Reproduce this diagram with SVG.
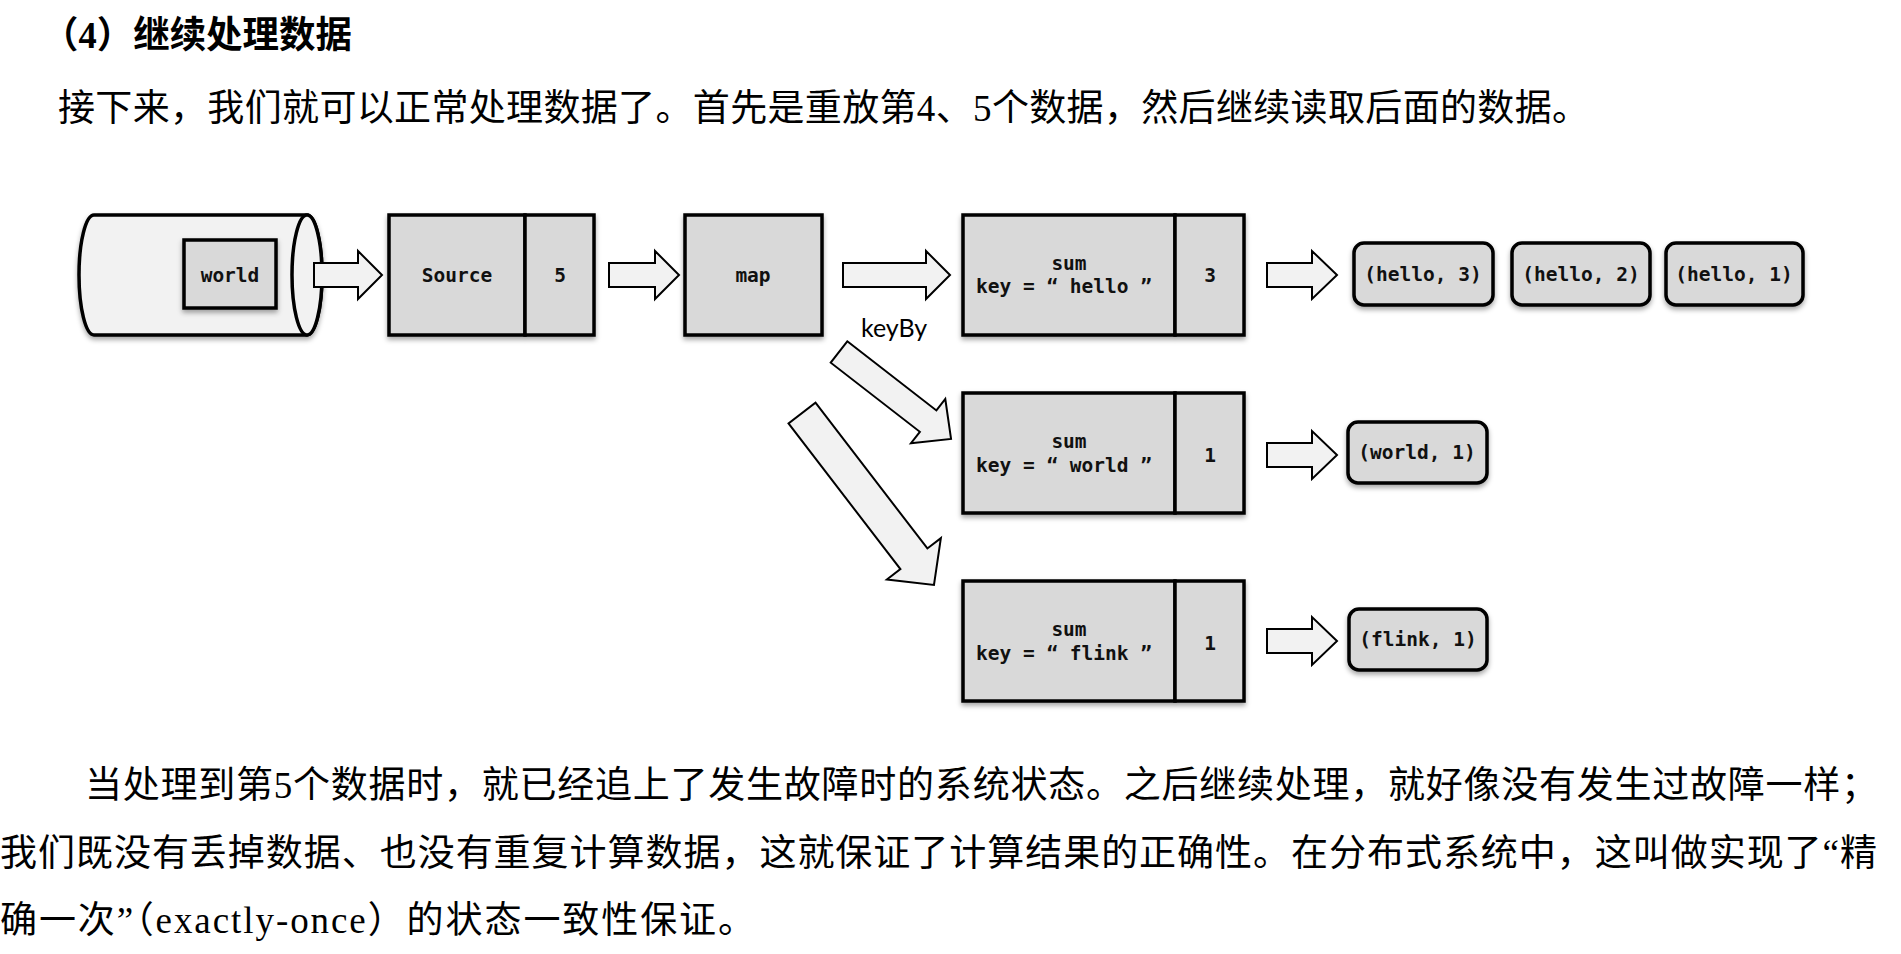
<svg xmlns="http://www.w3.org/2000/svg" width="1901" height="954" viewBox="0 0 1901 954">
<defs>
<filter id="sh" x="-10%" y="-10%" width="120%" height="130%">
<feDropShadow dx="0" dy="3" stdDeviation="2.5" flood-color="#000" flood-opacity="0.35"/>
</filter>
<style>
.box{fill:#d9d9d9;stroke:#000;stroke-width:3.5}
.cyl{fill:#f2f2f2;stroke:#000;stroke-width:3.5}
.arr{fill:#f2f2f2;stroke:#000;stroke-width:2;stroke-linejoin:miter}
.mono{font-family:"DejaVu Sans Mono","Liberation Mono",monospace;font-weight:bold;font-size:19.5px;fill:#111;text-anchor:middle}
.pill{font-family:"DejaVu Sans Mono","Liberation Mono",monospace;font-weight:bold;font-size:19.5px;fill:#111;text-anchor:middle}
.cn{font-family:"Liberation Serif","Noto Sans CJK SC",serif;font-size:37px;fill:#000}
.lbl{font-family:Lato,"Open Sans",sans-serif;font-size:25px;fill:#000}
</style>
</defs>

<g id="text-title">
<text class="cn" x="42" y="48" textLength="310" lengthAdjust="spacingAndGlyphs" font-weight="bold">（4）继续处理数据</text>
</g>
<g id="text-intro">
<text class="cn" x="58" y="121" textLength="1531" lengthAdjust="spacing">接下来，我们就可以正常处理数据了。首先是重放第4、5个数据，然后继续读取后面的数据。</text>
</g>

<g id="connectors">
<polygon class="arr" points="609,263 655,263 655,251 679,275 655,299 655,287 609,287"/>
<polygon class="arr" points="843,263 926,263 926,251 950,275 926,299 926,287 843,287"/>
<polygon class="arr" points="1267,263 1312,263 1312,251 1337,275 1312,299 1312,287 1267,287"/>
<polygon class="arr" points="1267,443 1312,443 1312,431 1337,455 1312,479 1312,467 1267,467"/>
<polygon class="arr" points="1267,629 1312,629 1312,617 1337,641 1312,665 1312,653 1267,653"/>
<polygon class="arr" transform="translate(839,352) rotate(37.8)" points="0,-13.5 112.8,-13.5 112.8,-28 141.8,0 112.8,28 112.8,13.5 0,13.5"/>
<polygon class="arr" transform="translate(802,413) rotate(52.5)" points="0,-17 183.8,-17 183.8,-34 216.8,0 183.8,34 183.8,17 0,17"/>
<text class="lbl" x="861" y="337">keyBy</text>
</g>

<g id="cylinder" filter="url(#sh)">
<path class="cyl" d="M94,215 H307 A15,60 0 0 1 307,335 H94 A15,60 0 0 1 94,215 Z"/>
<ellipse class="cyl" cx="307" cy="275" rx="15" ry="60"/>
</g>
<g id="world-record">
<rect class="box" x="184" y="240" width="92" height="68" filter="url(#sh)"/>
<text class="mono" x="230" y="282">world</text>
</g>
<g id="source-arrow">
<polygon class="arr" points="314,263 358,263 358,251 382,275 358,299 358,287 314,287"/>
</g>

<g id="source">
<g filter="url(#sh)">
<rect class="box" x="389" y="215" width="136" height="120"/>
<rect class="box" x="525" y="215" width="69" height="120"/>
</g>
<text class="mono" x="457" y="282">Source</text>
<text class="mono" x="560" y="282">5</text>
</g>

<g id="map">
<rect class="box" x="685" y="215" width="137" height="120" filter="url(#sh)"/>
<text class="mono" x="753" y="282">map</text>
</g>

<g id="sum-hello">
<g filter="url(#sh)">
<rect class="box" x="963" y="215" width="212" height="120"/>
<rect class="box" x="1175" y="215" width="69" height="120"/>
</g>
<text class="mono" x="1069" y="270">sum</text>
<text class="mono" x="1064" y="293">key = “ hello ”</text>
<text class="mono" x="1210" y="282">3</text>
</g>

<g id="sum-world">
<g filter="url(#sh)">
<rect class="box" x="963" y="393" width="212" height="120"/>
<rect class="box" x="1175" y="393" width="69" height="120"/>
</g>
<text class="mono" x="1069" y="448">sum</text>
<text class="mono" x="1064" y="472">key = “ world ”</text>
<text class="mono" x="1210" y="462">1</text>
</g>

<g id="sum-flink">
<g filter="url(#sh)">
<rect class="box" x="963" y="581" width="212" height="120"/>
<rect class="box" x="1175" y="581" width="69" height="120"/>
</g>
<text class="mono" x="1069" y="636">sum</text>
<text class="mono" x="1064" y="660">key = “ flink ”</text>
<text class="mono" x="1210" y="650">1</text>
</g>

<g id="out-hello-3">
<rect class="box" x="1354" y="243" width="139" height="62" rx="10" filter="url(#sh)"/>
<text class="pill" x="1423" y="281">(hello, 3)</text>
</g>
<g id="out-hello-2">
<rect class="box" x="1512" y="243" width="138" height="62" rx="10" filter="url(#sh)"/>
<text class="pill" x="1581" y="281">(hello, 2)</text>
</g>
<g id="out-hello-1">
<rect class="box" x="1666" y="243" width="137" height="62" rx="10" filter="url(#sh)"/>
<text class="pill" x="1734" y="281">(hello, 1)</text>
</g>
<g id="out-world-1">
<rect class="box" x="1348" y="422" width="139" height="61" rx="10" filter="url(#sh)"/>
<text class="pill" x="1417" y="459">(world, 1)</text>
</g>
<g id="out-flink-1">
<rect class="box" x="1349" y="609" width="138" height="61" rx="10" filter="url(#sh)"/>
<text class="pill" x="1418" y="646">(flink, 1)</text>
</g>

<g id="text-conclusion">
<text class="cn" x="85" y="798" textLength="1793" lengthAdjust="spacing">当处理到第5个数据时，就已经追上了发生故障时的系统状态。之后继续处理，就好像没有发生过故障一样；</text>
<text class="cn" x="0" y="866" textLength="1877" lengthAdjust="spacing">我们既没有丢掉数据、也没有重复计算数据，这就保证了计算结果的正确性。在分布式系统中，这叫做实现了“精</text>
<text class="cn" x="0" y="933" textLength="755" lengthAdjust="spacing">确一次”（exactly-once）的状态一致性保证。</text>
</g>
</svg>
